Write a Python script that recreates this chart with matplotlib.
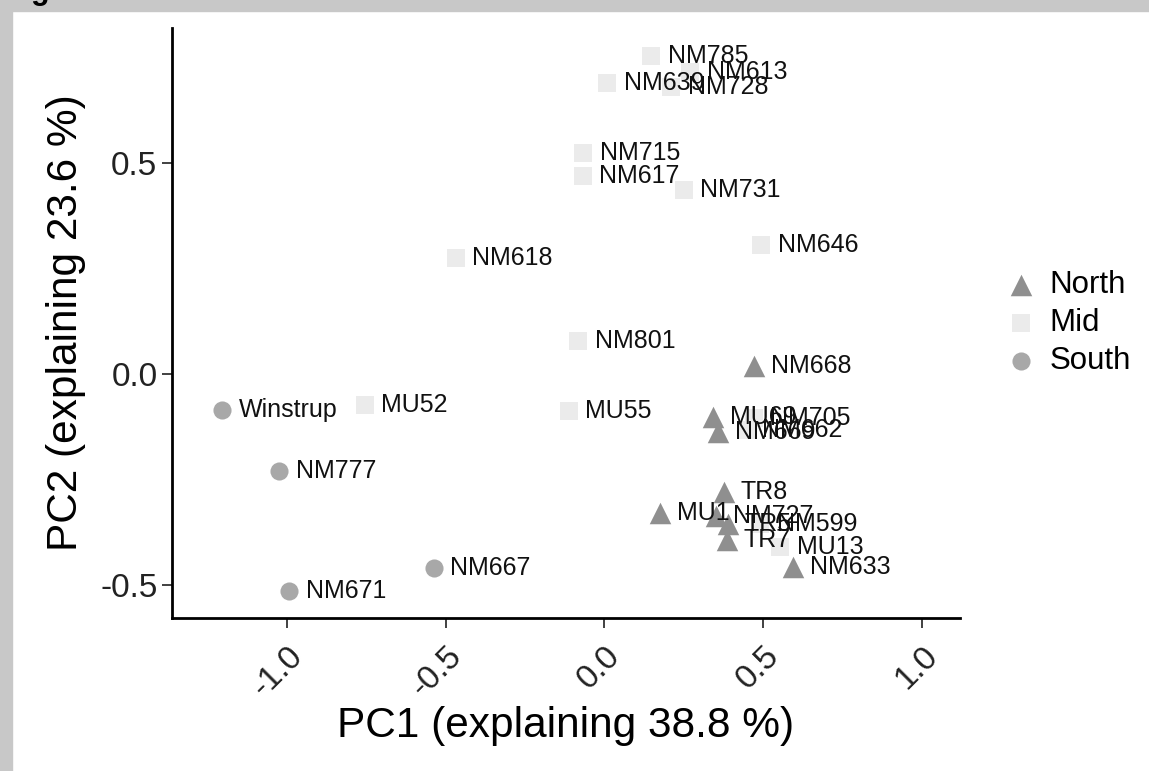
import matplotlib.pyplot as plt
from matplotlib.patches import Rectangle

plt.rcParams['font.family'] = ['Liberation Sans', 'DejaVu Sans']
plt.rcParams['axes.unicode_minus'] = False

# PCA scores per sample
north_names = ['NM668', 'MU69', 'NM669', 'TR8', 'MU1', 'NM727', 'TR5', 'TR7', 'NM633']
north_pc1 = [0.472, 0.343, 0.358, 0.377, 0.176, 0.352, 0.390, 0.387, 0.594]
north_pc2 = [0.019, -0.102, -0.137, -0.280, -0.329, -0.336, -0.355, -0.393, -0.457]

mid_names = ['NM785', 'NM639', 'NM613', 'NM728', 'NM715', 'NM617', 'NM731', 'NM646',
             'NM618', 'NM801', 'MU52', 'MU55', 'NM705', 'NM662', 'NM599', 'MU13']
mid_pc1 = [0.148, 0.009, 0.270, 0.210, -0.066, -0.069, 0.250, 0.494,
           -0.469, -0.082, -0.755, -0.113, 0.470, 0.445, 0.490, 0.553]
mid_pc2 = [0.754, 0.690, 0.716, 0.680, 0.524, 0.469, 0.436, 0.306,
           0.275, 0.078, -0.073, -0.088, -0.104, -0.132, -0.355, -0.410]

south_names = ['Winstrup', 'NM777', 'NM667', 'NM671']
south_pc1 = [-1.204, -1.025, -0.538, -0.994]
south_pc2 = [-0.085, -0.230, -0.460, -0.514]

x_ticks = [-1.0, -0.5, 0.0, 0.5, 1.0]
y_ticks = [-0.5, 0.0, 0.5]

fig = plt.figure(figsize=(11.49, 7.71), dpi=100)
fig.patches.append(Rectangle((0, 1 - 11 / 771), 1, 11 / 771, transform=fig.transFigure,
                             color='#c8c8c8', zorder=0))
fig.patches.append(Rectangle((0, 0), 12 / 1149, 1, transform=fig.transFigure,
                             color='#c8c8c8', zorder=0))
fig.text(0.027, 1 + 1 / 771, 'g', fontsize=22, fontweight='bold', va='baseline')

ax = fig.add_axes([0.1497, 0.1984, 0.6858, 0.7653])

groups = [
    ('North', north_names, north_pc1, north_pc2, '^', '#8f8f8f', 240),
    ('Mid', mid_names, mid_pc1, mid_pc2, 's', '#ebebeb', 170),
    ('South', south_names, south_pc1, south_pc2, 'o', '#a8a8a8', 170),
]
for label, names, xs, ys, mk, col, sz in groups:
    ax.scatter(xs, ys, marker=mk, color=col, s=sz, label=label, linewidths=0, zorder=2)
    for n, x, y in zip(names, xs, ys):
        ax.annotate(n, (x, y), xytext=(12, 0), textcoords='offset points',
                    ha='left', va='center', fontsize=18, color='#111111', zorder=3)

ax.set_xlim(-1.362, 1.12)
ax.set_ylim(-0.578, 0.82)
ax.set_xticks(x_ticks)
ax.set_yticks(y_ticks)
ax.set_xticklabels([f'{t:.1f}' for t in x_ticks], rotation=45, ha='right',
                   rotation_mode='anchor')
ax.tick_params(labelsize=24, length=7, width=1.3, color='#333333', labelcolor='#222222')
ax.tick_params(axis='x', pad=9)
ax.set_xlabel('PC1 (explaining 38.8 %)', fontsize=30.5, labelpad=2)
ax.set_ylabel('PC2 (explaining 23.6 %)', fontsize=30.5, labelpad=10)
for side in ['top', 'right']:
    ax.spines[side].set_visible(False)
for side in ['left', 'bottom']:
    ax.spines[side].set_linewidth(2)

ax.legend(loc='center left', bbox_to_anchor=(1.03, 0.5), frameon=False, fontsize=22.5,
          handletextpad=0.1, handlelength=1.6, labelspacing=0.25, borderaxespad=0)

plt.savefig('out.png', dpi=100)
plt.close()
